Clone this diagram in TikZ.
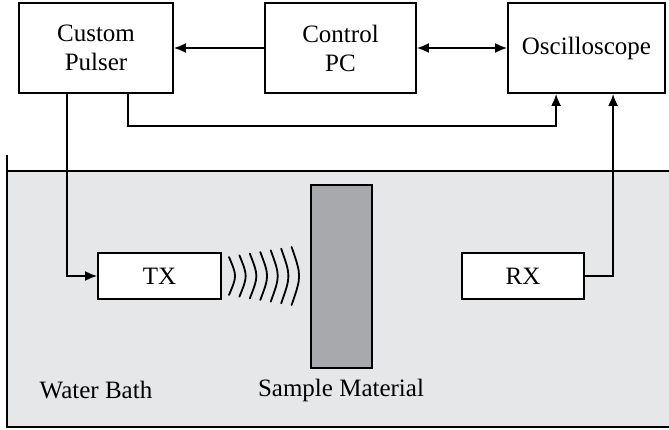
\documentclass[tikz,border=0pt]{standalone}
\usepackage{fontspec}
\setmainfont{Liberation Serif}
\usetikzlibrary{arrows.meta,calc}
\definecolor{bathgray}{HTML}{E6E7E8}
\definecolor{samplegray}{HTML}{A7A9AC}
\tikzset{
  box/.style={draw=black,line width=1.8pt,fill=white,rectangle,inner sep=0pt,align=center,font=\fontsize{25}{29}\selectfont},
  conn/.style={line width=1.8pt},
  arr/.style={conn,-{Latex[length=12pt,width=10pt]}},
  darr/.style={conn,{Latex[length=12pt,width=10pt]}-{Latex[length=12pt,width=10pt]}},
  lbl/.style={font=\fontsize{25}{29}\selectfont,inner sep=0pt},
  wave/.style={line width=1.8pt,line cap=round}
}
\begin{document}
\begin{tikzpicture}[x=1pt,y=-1pt]
\useasboundingbox (0,0) rectangle (669,430);
% water bath
\fill[bathgray] (7,171) rectangle (669,427);
\draw[conn] (7,155) -- (7,427) -- (669,427);
\draw[conn] (7,171) -- (669,171);
% top boxes
\node[box,minimum width=154pt,minimum height=90pt] (pulser) at (96,48) {Custom\\Pulser};
\node[box,minimum width=151pt,minimum height=90pt] (pc) at (340.5,48) {Control\\PC};
\node[box,minimum width=157pt,minimum height=90pt] (osc) at (586.5,48) {Oscilloscope};
% bath contents
\node[box,minimum width=123pt,minimum height=46pt] (tx) at (159.5,276) {TX};
\node[box,minimum width=122pt,minimum height=46pt] (rx) at (523,276) {RX};
\node[draw=black,line width=1.8pt,fill=samplegray,minimum width=61pt,minimum height=183pt,inner sep=0pt] (sample) at (341.5,276.5) {};
\node[lbl] (wb) at (96,390) {Water Bath};
\node[lbl] (sm) at (341,390) {Sample Material};
% connectors
\draw[arr] (pc.west) -- (pulser.east);
\draw[darr] (pc.east) -- (osc.west);
\draw[arr] ($(pulser.south west)+(49,0)$) |- (tx.west);
\draw[arr] ($(pulser.south west)+(110,0)$) -- ++(0,32) -| ($(osc.south west)+(49,0)$);
\draw[arr] (rx.east) -| ($(osc.south west)+(106,0)$);
% waves
\foreach \i in {0,...,6}{
  \pgfmathsetmacro{\xa}{233+\i*10.6}
  \pgfmathsetmacro{\hh}{19+\i*10/6}
  \pgfmathsetmacro{\ss}{4+\i/6}
  \draw[wave] (\xa-\ss,276-\hh) .. controls (\xa+\ss,276) .. (\xa-\ss,276+\hh);
}
\end{tikzpicture}
\end{document}
